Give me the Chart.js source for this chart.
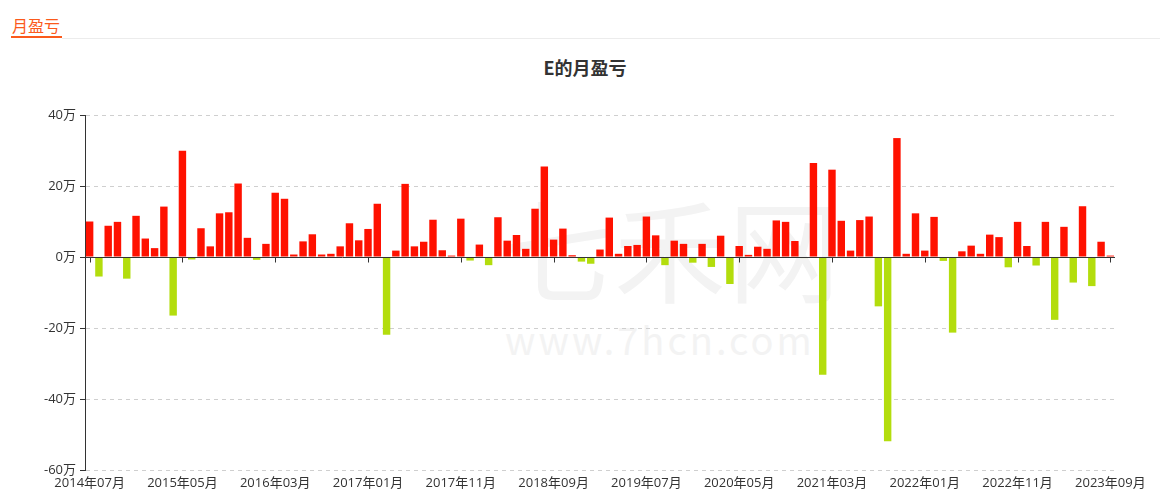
<!DOCTYPE html>
<html>
<head>
<meta charset="utf-8">
<script src="https://cdn.jsdelivr.net/npm/chart.js@4/dist/chart.umd.min.js"></script>
<style>
  body { margin: 0; background: #fff; font-family: 'Noto Sans CJK SC', sans-serif; }
  #wrap { position: relative; width: 1169px; height: 501px; overflow: hidden; }
  .tab { position: absolute; left: 11px; top: 15px; font-size: 16px; color: #fb5a1c; line-height: 20px; padding: 0 1px; }
  .tab-line { position: absolute; left: 11px; top: 36px; width: 51px; height: 2px; background: #fb5a1c; }
  .rule { position: absolute; left: 62px; top: 38px; width: 1098px; height: 1px; background: #ececec; }
  .title { position: absolute; left: 0; width: 1170px; top: 55px; text-align: center; font-size: 18px; font-weight: bold; color: #333; line-height: 24px; }
  .wm1 { position: absolute; left: 500px; top: 165px; font-size: 112px; color: #f3f3f3; letter-spacing: 2px; }
  .wm2 { position: absolute; left: 505px; top: 311px; font-size: 38px; color: #f3f3f3; letter-spacing: 3px; }
  canvas { position: absolute; left: 0; top: 0; }
</style>
</head>
<body>
<div id="wrap">
  <div class="wm1">七禾网</div>
  <div class="wm2">www.7hcn.com</div>
  <div class="tab">月盈亏</div>
  <div class="tab-line"></div>
  <div class="rule"></div>
  <div class="title">E的月盈亏</div>
  <canvas id="chart" width="1169" height="501"></canvas>
</div>
<script>
// months 2014-07 .. 2023-09
const startYear = 2014, startMonth = 7, monthCount = 111;
const months = [];
for (let i = 0; i < monthCount; i++) {
  const m = startMonth - 1 + i;
  months.push((startYear + Math.floor(m / 12)) + '年' + String(m % 12 + 1).padStart(2, '0') + '月');
}

// monthly profit / loss, unit: 万
const profit = [
  10.0, -5.5, 8.8, 9.9, -6.1, 11.6, 5.2, 2.5, 14.2, -16.5,
  29.9, -0.7, 8.1, 3.0, 12.3, 12.6, 20.7, 5.4, -0.8, 3.7,
  18.1, 16.4, 0.7, 4.4, 6.4, 0.7, 0.9, 3.0, 9.5, 4.7,
  7.9, 15.0, -21.9, 1.8, 20.6, 3.0, 4.3, 10.5, 1.9, 0.4,
  10.8, -1.0, 3.5, -2.3, 11.2, 4.6, 6.2, 2.3, 13.6, 25.5,
  4.9, 8.0, 0.5, -1.3, -1.9, 2.1, 11.1, 0.9, 3.1, 3.4,
  11.4, 6.1, -2.3, 4.6, 3.7, -1.6, 3.7, -2.8, 6.0, -7.6,
  3.1, 0.6, 2.9, 2.3, 10.3, 9.9, 4.5, -0.3, 26.5, -33.2,
  24.6, 10.2, 1.8, 10.4, 11.4, -13.9, -51.9, 33.5, 0.9, 12.3,
  1.8, 11.3, -1.1, -21.3, 1.6, 3.2, 0.9, 6.3, 5.6, -2.9,
  9.9, 3.1, -2.4, 9.9, -17.7, 8.5, -7.2, 14.3, -8.2, 4.3,
  0.4
];

const yMin = -60, yMax = 40, yStep = 20;
const labelEvery = 10;
const upColor = '#ff1100', downColor = '#b3dd0d';
const font = "'Open Sans', 'Noto Sans CJK SC', sans-serif";

// x axis sits on the zero line, with ticks under labelled months
const zeroAxis = {
  id: 'zeroAxis',
  afterDatasetsDraw(chart) {
    const { ctx, scales: { x, y } } = chart;
    const y0 = Math.round(y.getPixelForValue(0)) + .5;
    ctx.save();
    ctx.strokeStyle = '#333';
    ctx.lineWidth = 1;
    ctx.beginPath();
    ctx.moveTo(x.left, y0);
    ctx.lineTo(x.right, y0);
    months.forEach((m, i) => {
      if (i % labelEvery !== 0) return;
      const px = Math.round(x.getPixelForValue(i)) + .5;
      ctx.moveTo(px, y0);
      ctx.lineTo(px, y0 + 5);
    });
    ctx.stroke();
    ctx.restore();
  }
};

new Chart(document.getElementById('chart'), {
  type: 'bar',
  data: {
    labels: months,
    datasets: [{
      data: profit,
      backgroundColor: c => c.raw >= 0 ? upColor : downColor,
      barPercentage: 0.8, categoryPercentage: 1
    }]
  },
  options: {
    responsive: false, animation: false,
    layout: { padding: { left: 25, right: 54, top: 115, bottom: 0 } },
    plugins: { legend: { display: false }, tooltip: { enabled: false } },
    scales: {
      x: {
        grid: { display: false, drawTicks: false }, border: { display: false },
        ticks: {
          autoSkip: false, maxRotation: 0, padding: 5, color: '#333',
          font: { family: font, size: 13 },
          callback: (v, i) => i % labelEvery === 0 ? months[i] : ''
        },
        afterFit: s => { s.height = 31; }
      },
      y: {
        min: yMin, max: yMax,
        ticks: { stepSize: yStep, padding: 4, color: '#333', font: { family: font, size: 13 }, callback: v => v + '万' },
        grid: {
          color: c => c.tick && c.tick.value === 0 ? 'transparent' : '#cfcfcf',
          tickColor: '#333', tickLength: 5, tickBorderDash: []
        },
        border: { display: true, color: '#333', dash: [4, 4] },
        afterFit: s => { s.width = 60; }
      }
    }
  },
  plugins: [zeroAxis]
});
</script>
</body>
</html>
